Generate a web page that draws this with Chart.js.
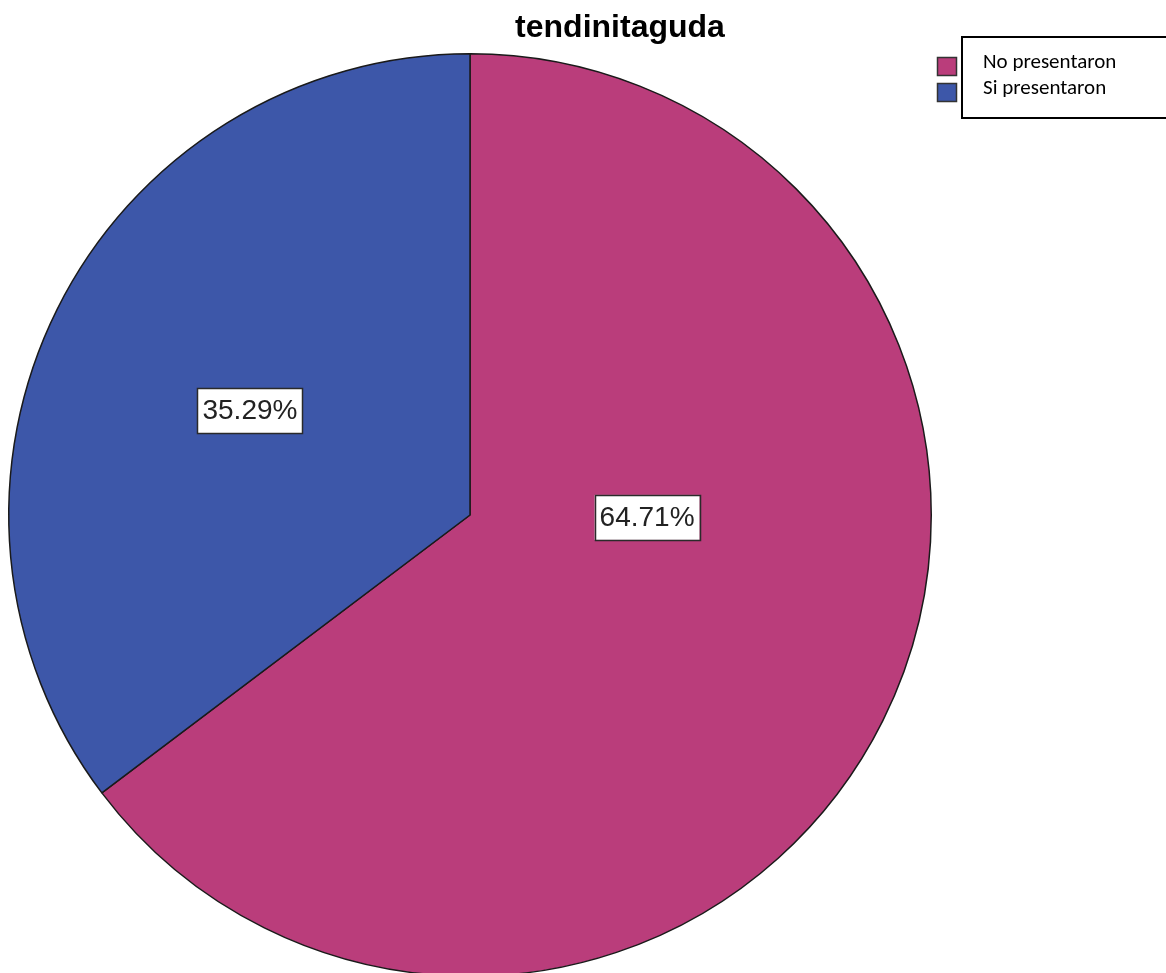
<!DOCTYPE html>
<html>
<head>
<meta charset="utf-8">
<title>tendinitaguda</title>
<script src="https://cdn.jsdelivr.net/npm/chart.js@4/dist/chart.umd.min.js"></script>
<style>
  html, body { margin: 0; padding: 0; background: #fff; overflow: hidden; }
  #wrap { width: 1166px; height: 1000px; }
</style>
</head>
<body>
<div id="wrap"><canvas id="pieChart" width="1166" height="1000"></canvas></div>
<script>
// data
const chartTitle = "tendinitaguda";
const categories = ["No presentaron", "Si presentaron"];
const percents = [64.71, 35.29];
const sliceColors = ["#BA3D7B", "#3D57A9"];

// percentage boxes inside the slices (angle shift in degrees, fraction of radius)
const labelPlacement = [
    { shift: -25.7, dist: 0.384 },
    { shift: -1.1, dist: 0.528 }
];

const boxLabels = {
    id: "boxLabels",
    afterDatasetsDraw(chart) {
        const ctx = chart.ctx;
        const meta = chart.getDatasetMeta(0);
        ctx.save();
        ctx.font = "28px 'Liberation Sans', Arial, sans-serif";
        ctx.textAlign = "center";
        ctx.textBaseline = "middle";
        meta.data.forEach((arc, i) => {
            const mid = (arc.startAngle + arc.endAngle) / 2 + labelPlacement[i].shift * Math.PI / 180;
            const r = arc.outerRadius * labelPlacement[i].dist;
            const x = arc.x + Math.cos(mid) * r;
            const y = arc.y + Math.sin(mid) * r;
            const text = percents[i].toFixed(2) + "%";
            const w = ctx.measureText(text).width + 10;
            const h = 45;
            ctx.fillStyle = "#ffffff";
            ctx.fillRect(x - w / 2, y - h / 2, w, h);
            ctx.strokeStyle = "#2a2a2a";
            ctx.lineWidth = 1.5;
            ctx.strokeRect(Math.round(x - w / 2) + 0.5, Math.round(y - h / 2) + 0.5, Math.round(w), h);
            ctx.fillStyle = "#222";
            ctx.fillText(text, x, y + 1);
        });
        ctx.restore();
    }
};

const titleAndLegend = {
    id: "titleAndLegend",
    afterDraw(chart) {
        const ctx = chart.ctx;
        ctx.save();
        // title
        ctx.font = "bold 32px 'Liberation Sans', Arial, sans-serif";
        ctx.fillStyle = "#000";
        ctx.textAlign = "center";
        ctx.textBaseline = "alphabetic";
        ctx.fillText(chartTitle, 620, 37);

        // legend frame
        ctx.strokeStyle = "#000";
        ctx.lineWidth = 2;
        ctx.strokeRect(962, 37, 220, 81);

        // legend entries
        ctx.font = "21px Carlito, Lato, sans-serif";
        ctx.textAlign = "left";
        ctx.textBaseline = "middle";
        categories.forEach((name, i) => {
            const y = 57 + i * 26;
            ctx.fillStyle = sliceColors[i];
            ctx.fillRect(937, y, 20, 19);
            ctx.strokeStyle = "#333";
            ctx.lineWidth = 1.5;
            ctx.strokeRect(937.5, y + 0.5, 19, 18);
            ctx.fillStyle = "#000";
            ctx.fillText(name, 983, y + 6);
        });
        ctx.restore();
    }
};

new Chart(document.getElementById("pieChart"), {
    type: "pie",
    data: {
        labels: categories,
        datasets: [{
            data: percents,
            backgroundColor: sliceColors,
            borderColor: "#1a1a1a",
            borderWidth: 1.5
        }]
    },
    options: {
        responsive: false,
        animation: false,
        layout: { padding: { left: 8, right: 234, top: 53, bottom: 23 } },
        plugins: {
            legend: { display: false },
            title: { display: false },
            tooltip: { enabled: false }
        }
    },
    plugins: [boxLabels, titleAndLegend]
});
</script>
</body>
</html>
